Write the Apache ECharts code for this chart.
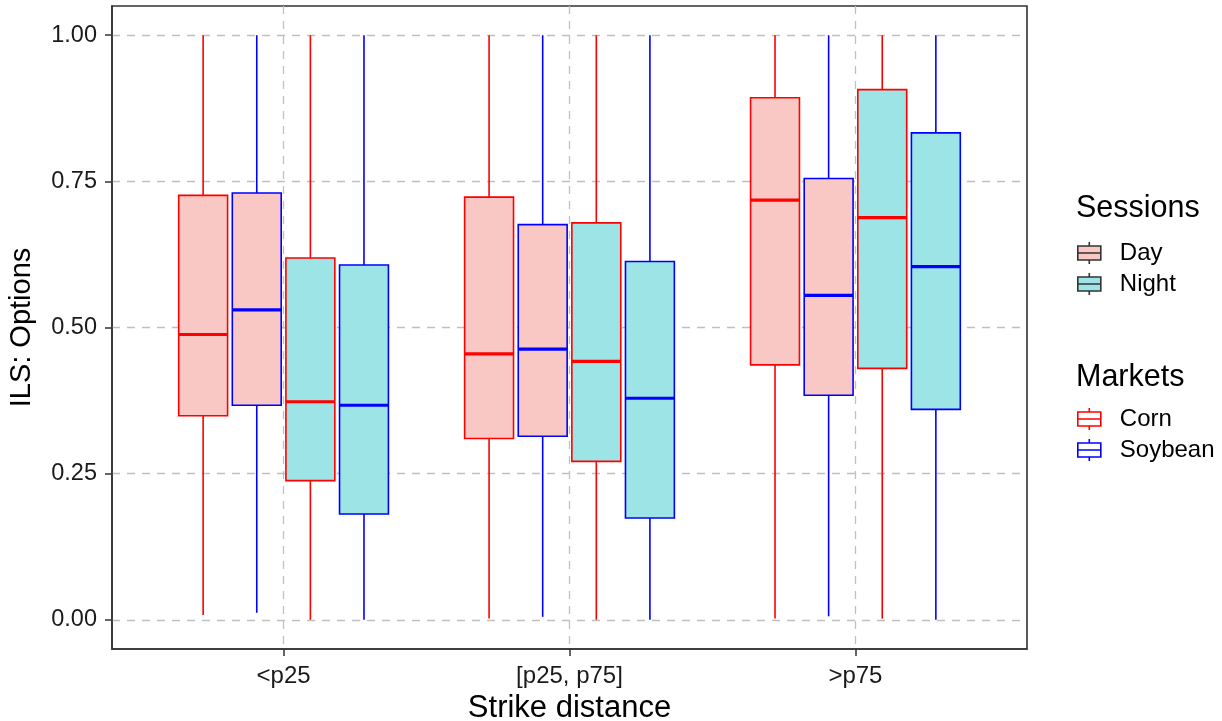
<!DOCTYPE html>
<html>
<head>
<meta charset="utf-8">
<script src="https://cdn.jsdelivr.net/npm/echarts@6/dist/echarts.min.js"></script>
<style>
  html, body { margin: 0; padding: 0; background: #fff; }
  #chart { width: 1222px; height: 721px; }
</style>
</head>
<body>
<div id="chart"></div>
<script>
// ---- data ----
const categories = ['<p25', '[p25, p75]', '>p75'];
const yTicks = [0, 0.25, 0.5, 0.75, 1.0];
// each row: [min, Q1, median, Q3, max] per strike-distance category
const dayCorn    = [[0.008, 0.349, 0.488, 0.726, 1.0], [0.002, 0.310, 0.455, 0.723, 1.0], [0.002, 0.436, 0.718, 0.893, 1.0]];
const daySoybean = [[0.012, 0.367, 0.530, 0.730, 1.0], [0.005, 0.314, 0.463, 0.676, 1.0], [0.006, 0.384, 0.555, 0.755, 1.0]];
const nightCorn  = [[0.000, 0.238, 0.373, 0.619, 1.0], [0.000, 0.271, 0.442, 0.679, 1.0], [0.002, 0.430, 0.688, 0.907, 1.0]];
const nightSoybean = [[0.000, 0.181, 0.367, 0.607, 1.0], [0.000, 0.174, 0.379, 0.613, 1.0], [0.000, 0.360, 0.604, 0.833, 1.0]];

// ---- styles ----
const FONT = "'Liberation Sans', Arial, Helvetica, sans-serif";
const DAY_FILL = '#FAC8C4';
const NIGHT_FILL = '#9CE4E6';
const CORN = '#FF0000';
const SOY = '#0000FF';
const DODGE = 0.1875;   // axis units between adjacent boxes
const BOXW = 0.171;     // box width in axis units

const groups = [
  { name: 'Day-Corn', rows: dayCorn, fill: DAY_FILL, stroke: CORN },
  { name: 'Day-Soybean', rows: daySoybean, fill: DAY_FILL, stroke: SOY },
  { name: 'Night-Corn', rows: nightCorn, fill: NIGHT_FILL, stroke: CORN },
  { name: 'Night-Soybean', rows: nightSoybean, fill: NIGHT_FILL, stroke: SOY }
];

function makeRender(idx, fill, stroke) {
  const off = (idx - 1.5) * DODGE;
  return function (params, api) {
    const x = api.value(0) + off;
    const cx = api.coord([x, 0])[0];
    const hw = api.size([BOXW, 0])[0] / 2;
    const yMin = api.coord([x, api.value(1)])[1];
    const yQ1 = api.coord([x, api.value(2)])[1];
    const yMed = api.coord([x, api.value(3)])[1];
    const yQ3 = api.coord([x, api.value(4)])[1];
    const yMax = api.coord([x, api.value(5)])[1];
    const ls = { stroke: stroke, lineWidth: 1.6, fill: null };
    return {
      type: 'group',
      children: [
        { type: 'line', shape: { x1: cx, y1: yQ3, x2: cx, y2: yMax }, style: ls },
        { type: 'line', shape: { x1: cx, y1: yQ1, x2: cx, y2: yMin }, style: ls },
        { type: 'rect', shape: { x: cx - hw, y: yQ3, width: 2 * hw, height: yQ1 - yQ3 },
          style: { fill: fill, stroke: stroke, lineWidth: 1.6 } },
        { type: 'line', shape: { x1: cx - hw, y1: yMed, x2: cx + hw, y2: yMed },
          style: { stroke: stroke, lineWidth: 3.2 } }
      ]
    };
  };
}

const series = groups.map((g, i) => ({
  type: 'custom',
  name: g.name,
  renderItem: makeRender(i, g.fill, g.stroke),
  encode: { x: 0, y: [1, 2, 3, 4, 5] },
  data: g.rows.map((r, c) => [c + 1].concat(r)),
  silent: true,
  z: 2
}));

// legend-only series
['Day', 'Night', 'Corn', 'Soybean'].forEach(n => {
  series.push({ type: 'custom', name: n, data: [], renderItem: () => null });
});

const iconPath = 'path://M11.5,0L11.5,4M0,4L23,4L23,18L0,18ZM0,11L23,11M11.5,18L11.5,22';

const legendCommon = {
  orient: 'vertical',
  left: 1077,
  itemWidth: 23,
  itemHeight: 22,
  itemGap: 7,
  padding: 0,
  selectedMode: false,
  icon: iconPath,
  textStyle: { fontSize: 24, color: '#000', fontFamily: FONT, padding: [0, 0, 0, 14] }
};

const axisLineStyle = { show: true, onZero: false, lineStyle: { color: '#333333', width: 1.6 } };

const option = {
  animation: false,
  backgroundColor: '#fff',
  title: [
    { text: 'Sessions', left: 1076, top: 193, padding: 0,
      textStyle: { fontSize: 30.5, fontWeight: 'normal', color: '#000', fontFamily: FONT } },
    { text: 'Markets', left: 1076, top: 362, padding: 0,
      textStyle: { fontSize: 30.5, fontWeight: 'normal', color: '#000', fontFamily: FONT } }
  ],
  legend: [
    Object.assign({}, legendCommon, {
      top: 241,
      data: [
        { name: 'Day', itemStyle: { color: DAY_FILL, borderColor: '#333333', borderWidth: 1.6 } },
        { name: 'Night', itemStyle: { color: NIGHT_FILL, borderColor: '#333333', borderWidth: 1.6 } }
      ]
    }),
    Object.assign({}, legendCommon, {
      top: 407,
      data: [
        { name: 'Corn', itemStyle: { color: '#ffffff', borderColor: CORN, borderWidth: 1.6 } },
        { name: 'Soybean', itemStyle: { color: '#ffffff', borderColor: SOY, borderWidth: 1.6 } }
      ]
    })
  ],
  grid: {
    left: 112, right: 195, top: 6, bottom: 72,
    containLabel: false,
    outerBoundsMode: 'none',
    show: true, borderColor: '#333333', borderWidth: 1.6, backgroundColor: 'transparent'
  },
  xAxis: {
    type: 'value',
    min: 0.4, max: 3.6,
    name: 'Strike distance',
    nameLocation: 'middle',
    nameGap: 33,
    nameTextStyle: { fontSize: 31, color: '#000', fontFamily: FONT },
    axisLine: axisLineStyle,
    axisTick: { show: true, inside: false, length: 7, customValues: [1, 2, 3], lineStyle: { color: '#333333', width: 1.5 } },
    axisLabel: {
      customValues: [1, 2, 3], margin: 15,
      fontSize: 24, color: '#1a1a1a', fontFamily: FONT,
      formatter: v => categories[Math.round(v) - 1] || ''
    },
    splitLine: { show: true, lineStyle: { color: '#C0C0C0', width: 1.3, type: [8, 7] } }
  },
  yAxis: {
    type: 'value',
    min: -0.05, max: 1.05,
    name: 'ILS: Options',
    nameLocation: 'middle',
    nameGap: 76,
    nameRotate: 90,
    nameTextStyle: { fontSize: 29, color: '#000', fontFamily: FONT },
    axisLine: axisLineStyle,
    axisTick: { show: true, inside: false, length: 7, customValues: yTicks, lineStyle: { color: '#333333', width: 1.5 } },
    axisLabel: {
      customValues: yTicks, margin: 15,
      fontSize: 23.5, color: '#1a1a1a', fontFamily: FONT,
      formatter: v => v.toFixed(2)
    },
    splitLine: { show: true, lineStyle: { color: '#C0C0C0', width: 1.3, type: [8, 7] } }
  },
  series: series
};

const chart = echarts.init(document.getElementById('chart'), null, { renderer: 'canvas' });
chart.setOption(option);
</script>
</body>
</html>
